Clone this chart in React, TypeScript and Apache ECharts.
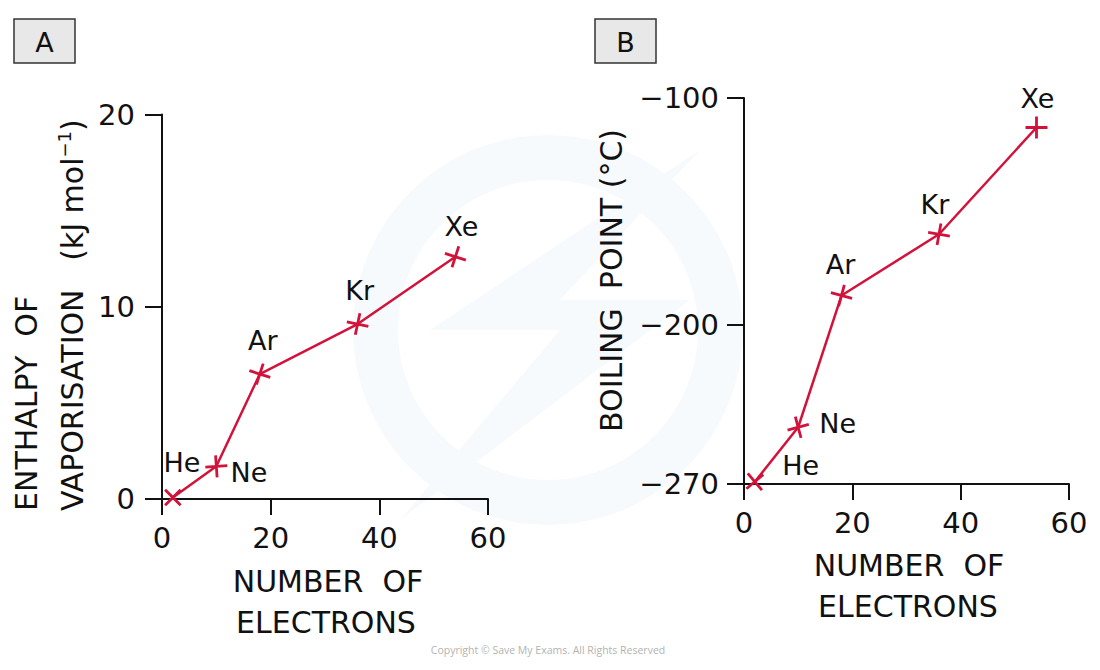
import React, { useEffect, useRef } from "react";
import * as echarts from "echarts";

// ---- data ----
const elements = ["He", "Ne", "Ar", "Kr", "Xe"];
const electrons = [2, 10, 18, 36, 54];
const enthalpy = [0.08, 1.7, 6.5, 9.1, 12.6]; // kJ mol^-1
const boilingPoint = [-269, -245, -187, -160, -113]; // °C
const electronTicks = [0, 20, 40, 60];
const enthalpyTicks = [0, 10, 20];
const boilingTicks = [-270, -200, -100];

// ---- styles (not data) ----
const FONT = '"DejaVu Sans", "Noto Sans", sans-serif';
const RED = "#d3123b";
const INK = "#111111";
const rotA = [45, 4, -18, -12, -18];
const rotB = [40, 15, -15, -10, 0];
const labA: any[] = [
  { position: "top", offset: [9, 1] },
  { position: "right", offset: [-4, 6] },
  { position: "top", offset: [3, 1] },
  { position: "top", offset: [2, 0] },
  { position: "top", offset: [6, 4] },
];
const labB: any[] = [
  { position: "right", offset: [5, -16] },
  { position: "right", offset: [1, -4] },
  { position: "top", offset: [-1, 3] },
  { position: "top", offset: [-4, 3] },
  { position: "top", offset: [1, 2] },
];

const PLUS = "path://M0,-10 L0,10 M-10,0 L10,0";

function buildSeries(ys: number[], rots: number[], labs: any[], idx: number) {
  return {
    type: "line",
    xAxisIndex: idx,
    yAxisIndex: idx,
    data: electrons.map((x, i) => ({
      value: [x, ys[i]],
      name: elements[i],
      symbolRotate: rots[i],
      label: { ...labs[i] },
    })),
    symbol: PLUS,
    symbolSize: 22,
    lineStyle: { color: RED, width: 2.5 },
    itemStyle: { color: RED, borderColor: RED, borderWidth: 2.8 },
    label: {
      show: true,
      formatter: (p: any) => p.name,
      fontFamily: FONT,
      fontSize: 27,
      color: INK,
    },
    clip: false,
    z: 5,
  };
}

const axisLineStyle = { lineStyle: { color: INK, width: 2 } };

function xAxisCfg(gridIndex: number) {
  return {
    type: "value",
    gridIndex,
    min: 0,
    max: 60,
    interval: 20,
    splitLine: { show: false },
    axisLine: { show: true, onZero: false, ...axisLineStyle },
    axisTick: { show: true, length: 16, customValues: electronTicks, lineStyle: { color: INK, width: 2 } },
    axisLabel: {
      customValues: electronTicks,
      margin: 24,
      fontFamily: FONT,
      fontSize: 29,
      color: INK,
      showMinLabel: true,
      showMaxLabel: true,
    },
  };
}

function yAxisCfg(gridIndex: number, min: number, max: number, ticks: number[], margin: number) {
  return {
    type: "value",
    gridIndex,
    min,
    max,
    splitLine: { show: false },
    axisLine: { show: true, onZero: false, ...axisLineStyle },
    axisTick: { show: true, length: 17, customValues: ticks, lineStyle: { color: INK, width: 2 } },
    axisLabel: {
      customValues: ticks,
      margin,
      fontFamily: FONT,
      fontSize: 29,
      color: INK,
      showMinLabel: true,
      showMaxLabel: true,
      formatter: (v: number) => String(v).replace("-", "\u2212"),
    },
  };
}

function txt(x: number, y: number, text: string, extra: any = {}, rotation = 0) {
  return {
    type: "text",
    x,
    y,
    rotation,
    style: {
      text,
      fontFamily: FONT,
      fontSize: 30,
      fill: INK,
      align: "center",
      verticalAlign: "middle",
      ...extra,
    },
  };
}

export default function App() {
  const ref = useRef<HTMLDivElement>(null);
  useEffect(() => {
    if (!ref.current) return;
    const chart = echarts.init(ref.current, undefined, { renderer: "svg" });
    const option: any = {
      animation: false,
      backgroundColor: "#ffffff",
      grid: [
        { left: 162, top: 114.5, width: 326, height: 384.5 },
        { left: 744, top: 98, width: 325, height: 386 },
      ],
      xAxis: [xAxisCfg(0), xAxisCfg(1)],
      yAxis: [
        yAxisCfg(0, 0, 20, enthalpyTicks, 27),
        yAxisCfg(1, -270, -100, boilingTicks, 25),
      ],
      series: [
        buildSeries(enthalpy, rotA, labA, 0),
        buildSeries(boilingPoint, rotB, labB, 1),
      ],
      graphic: [
        // faint watermark
        {
          type: "ring",
          shape: { cx: 548, cy: 330, r: 195, r0: 150 },
          style: { fill: "#f7fafd" },
          z: -10,
        },
        {
          type: "polygon",
          shape: { points: [[700, 150], [430, 330], [560, 330], [400, 520], [690, 300], [560, 300]] },
          style: { fill: "#f7fafd" },
          z: -10,
        },
        // panel boxes
        { type: "rect", shape: { x: 14, y: 19, width: 61, height: 44 }, style: { fill: "#e8e8e8", stroke: "#333", lineWidth: 1.5 } },
        txt(44.5, 42, "A", { fontSize: 27 }),
        { type: "rect", shape: { x: 595, y: 19, width: 61, height: 44 }, style: { fill: "#e8e8e8", stroke: "#333", lineWidth: 1.5 } },
        txt(625.5, 42, "B", { fontSize: 27 }),
        // x titles
        txt(328, 581, "NUMBER  OF"),
        txt(326, 622, "ELECTRONS"),
        txt(909, 565, "NUMBER  OF"),
        txt(908, 606, "ELECTRONS"),
        // y titles (rotated)
        txt(26, 511, "ENTHALPY  OF", { align: "left" }, Math.PI / 2),
        {
          type: "text",
          x: 72,
          y: 511,
          rotation: Math.PI / 2,
          style: {
            text: "{m|VAPORISATION   (kJ mol}{s|\u22121}{m|)}",
            align: "left",
            verticalAlign: "middle",
            rich: {
              m: { fontFamily: FONT, fontSize: 30, fill: INK, lineHeight: 34 },
              s: { fontFamily: FONT, fontSize: 18, fill: INK, verticalAlign: "top", lineHeight: 34 },
            },
          },
        },
        txt(611, 432, "BOILING  POINT (\u00B0C)", { align: "left" }, Math.PI / 2),
        // copyright
        txt(548, 650, "Copyright \u00A9 Save My Exams. All Rights Reserved", {
          fontFamily: '"Open Sans", sans-serif',
          fontSize: 10.5,
          fill: "#b3b3b3",
        }),
      ],
    };
    chart.setOption(option);
    return () => chart.dispose();
  }, []);
  return (
    <div
      ref={ref}
      style={{ position: "fixed", left: 0, top: 0, width: 1100, height: 670, background: "#fff" }}
    />
  );
}
